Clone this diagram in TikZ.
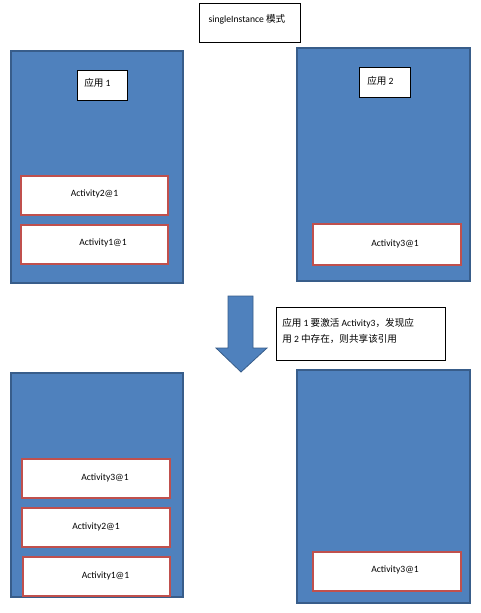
\documentclass[tikz,border=0pt]{standalone}
\usepackage{fontspec}
\setmainfont{Carlito}
\newfontfamily\cjk{Noto Sans CJK SC}
\usetikzlibrary{fit}
\definecolor{appblue}{HTML}{4F81BD}
\definecolor{appedge}{HTML}{385D8A}
\definecolor{actred}{HTML}{C0504D}
\begin{document}
\begin{tikzpicture}[x=0.75pt,y=-0.75pt,
  every node/.style={font=\fontsize{7.2pt}{9pt}\selectfont, inner sep=0pt},
  app/.style={draw=appedge, line width=0.8pt, fill=appblue},
  act/.style={draw=actred, line width=1.1pt, fill=white},
  label box/.style={draw=black, line width=0.6pt, fill=white},
  txt/.style={anchor=center}]
\useasboundingbox (0,0) rectangle (480,613);
\fill[white] (0,0) rectangle (480,613);
% title
\node[label box, fit={(199,3)(300,42)}] (title) {};
\node[txt] (titletext) at (247,19) {singleInstance {\cjk 模式}};
% top left app
\node[app, fit={(11,51)(183,283)}] (appA) {};
\node[label box, fit={(77,70)(127,100)}] (nameA) {};
\node[txt, anchor=west] (nameAt) at (84,83) {{\cjk 应用} 1};
\node[act, fit={(21,176)(168,215)}] (a2) {};
\node[txt] (a2t) at (94.5,194) {Activity2@1};
\node[act, fit={(21,225)(168,264)}] (a1) {};
\node[txt] (a1t) at (103,243) {Activity1@1};
% top right app
\node[app, fit={(297,48)(470,281)}] (appB) {};
\node[label box, fit={(359,67)(410,97)}] (nameB) {};
\node[txt, anchor=west] (nameBt) at (367,81) {{\cjk 应用} 2};
\node[act, fit={(313,224)(461,265)}] (b3) {};
\node[txt] (b3t) at (395,244) {Activity3@1};
% arrow
\fill[appblue, draw=appedge, line width=0.6pt] (228,296) -- (253,296) -- (253,348) -- (267,348) -- (241,372) -- (216,348) -- (228,348) -- cycle;
\node[label box, fit={(276,307)(445,360)}] (note) {};
\node[anchor=west] (note1) at (282,323) {{\cjk 应用} 1 {\cjk 要激活} Activity3{\cjk ，发现应}};
\node[anchor=west] (note2) at (282,339) {{\cjk 用} 2 {\cjk 中存在，则共享该引用}};
% bottom left app
\node[app, fit={(11,373)(183,597)}] (appC) {};
\node[act, fit={(22,459)(170,498)}] (c3) {};
\node[txt] (c3t) at (105,478) {Activity3@1};
\node[act, fit={(22,508)(170,547)}] (c2) {};
\node[txt] (c2t) at (96,527) {Activity2@1};
\node[act, fit={(23,557)(170,596)}] (c1) {};
\node[txt] (c1t) at (105.5,576) {Activity1@1};
% bottom right app
\node[app, fit={(297,370)(470,603)}] (appD) {};
\node[act, fit={(313,552)(461,591)}] (d3) {};
\node[txt] (d3t) at (395,570) {Activity3@1};
\end{tikzpicture}
\end{document}
